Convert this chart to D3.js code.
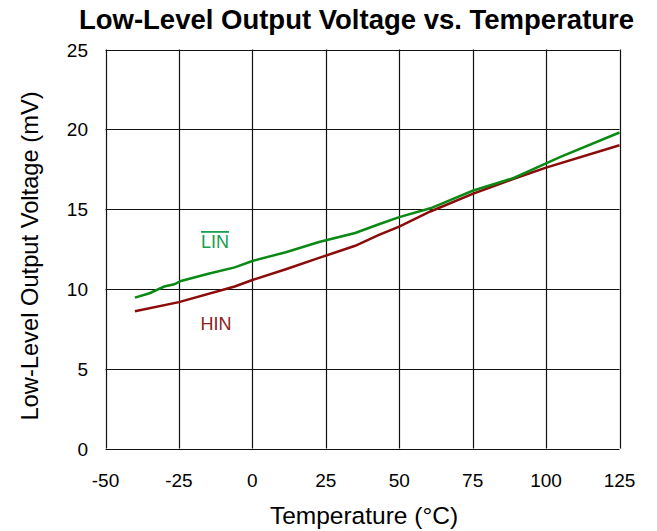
<!DOCTYPE html>
<html><head><meta charset="utf-8">
<script src="https://cdn.jsdelivr.net/npm/d3@7"></script>
<style>body{margin:0;background:#fff}svg{display:block}text{font-family:"Liberation Sans",Arial,sans-serif}</style>
</head><body>
<script>
const xTicks = [-50, -25, 0, 25, 50, 75, 100, 125];
const yTicks = [0, 5, 10, 15, 20, 25];
const linTemp = [-40, -35, -30, -26.6, -24.3, -15, -6, 0, 11.4, 22.7, 35, 43.1, 50, 60.6, 64.3, 75, 89, 100, 104.7, 125];
const linVals = [9.45, 9.73, 10.15, 10.29, 10.5, 10.95, 11.35, 11.75, 12.3, 12.94, 13.5, 14.05, 14.5, 15.05, 15.33, 16.15, 16.95, 17.87, 18.25, 19.8];
const hinTemp = [-40, -25, -6, 0, 11.4, 22.7, 35, 43.1, 50, 60.6, 75, 89, 100, 125];
const hinVals = [8.6, 9.17, 10.15, 10.56, 11.23, 11.94, 12.7, 13.39, 13.9, 14.85, 15.95, 16.9, 17.6, 19.0];

const W = 657, H = 531;
const svg = d3.select("body").append("svg").attr("width", W).attr("height", H);
const x = d3.scaleLinear().domain([-50, 125]).range([105.5, 619.5]);
const y = d3.scaleLinear().domain([0, 25]).range([448.5, 49.5]);

// grid
svg.append("g").selectAll("line").data(xTicks).join("line")
  .attr("x1", d => Math.round(x(d)) + 0.5).attr("x2", d => Math.round(x(d)) + 0.5)
  .attr("y1", y(0)).attr("y2", y(25)).attr("stroke", "#111").attr("stroke-width", 1.2);
svg.append("g").selectAll("line").data(yTicks).join("line")
  .attr("y1", d => Math.round(y(d)) + 0.5).attr("y2", d => Math.round(y(d)) + 0.5)
  .attr("x1", x(-50)).attr("x2", x(125)).attr("stroke", "#111").attr("stroke-width", 1.2);

// tick labels
svg.append("g").selectAll("text").data(xTicks).join("text")
  .attr("x", d => x(d)).attr("y", 487).attr("text-anchor", "middle")
  .attr("font-size", 19).attr("fill", "#000").text(d => d);
svg.append("g").selectAll("text").data(yTicks).join("text")
  .attr("x", 88).attr("y", d => y(d) + 7).attr("text-anchor", "end")
  .attr("font-size", 19).attr("fill", "#000").text(d => d);

// axis titles
svg.append("text").attr("x", 364).attr("y", 524).attr("text-anchor", "middle")
  .attr("font-size", 24.5).text("Temperature (°C)");
svg.append("text").attr("transform", "translate(37.5,256) rotate(-90)").attr("text-anchor", "middle")
  .attr("font-size", 23.7).text("Low-Level Output Voltage (mV)");
svg.append("text").attr("x", 356.5).attr("y", 29).attr("text-anchor", "middle")
  .attr("font-size", 27.5).attr("font-weight", "bold").text("Low-Level Output Voltage vs. Temperature");

// lines
const line = d3.line().x(d => x(d[0])).y(d => y(d[1]));
svg.append("path").datum(d3.zip(hinTemp, hinVals)).attr("d", line)
  .attr("fill", "none").attr("stroke", "#8b0a0a").attr("stroke-width", 2.5);
svg.append("path").datum(d3.zip(linTemp, linVals)).attr("d", line)
  .attr("fill", "none").attr("stroke", "#0a8a14").attr("stroke-width", 2.5);

// labels
svg.append("text").attr("x", 215).attr("y", 248).attr("text-anchor", "middle")
  .attr("font-size", 18).attr("fill", "#16a050").attr("text-decoration", "overline").text("LIN");
svg.append("text").attr("x", 216).attr("y", 330).attr("text-anchor", "middle")
  .attr("font-size", 18).attr("fill", "#8b2020").text("HIN");
</script>
</body></html>
